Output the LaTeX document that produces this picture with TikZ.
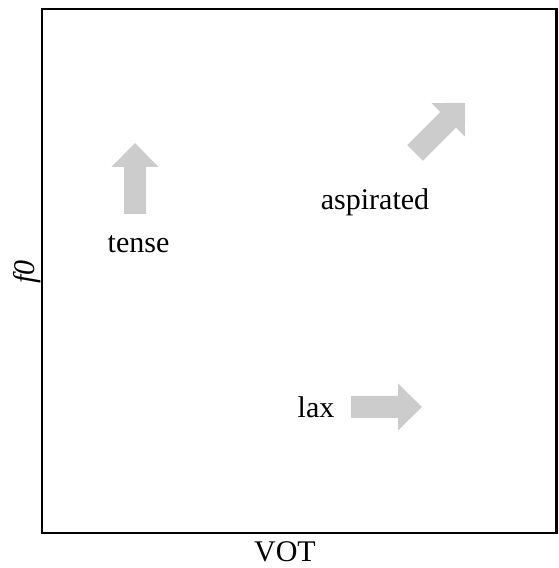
\documentclass[tikz,border=0pt]{standalone}
\usepackage{fontspec}
\setmainfont{Liberation Serif}
\begin{document}
\begin{tikzpicture}[x=1pt,y=1pt,
  lbl/.style={inner sep=0pt,anchor=base,font=\fontsize{30}{36}\selectfont},
  pics/bigarrow/.style={code={
    \fill[arrowgray] (0,-11) -- (47,-11) -- (47,-23.5) -- (71,0) -- (47,23.5) -- (47,11) -- (0,11) -- cycle;}}]
\definecolor{arrowgray}{HTML}{CCCCCC}
\useasboundingbox (0,0) rectangle (558,568);
\draw[line width=2.2pt] (42,559) rectangle (556.5,35);
% axis labels
\node[lbl] (vot) at (285,6) {VOT};
\node[inner sep=0pt,rotate=90,font=\fontsize{30}{36}\selectfont\itshape] (fz) at (27,296) {f0};
% category labels
\node[lbl] (tense) at (138.5,315) {tense};
\node[lbl] (asp) at (375,358) {aspirated};
\node[lbl] (lax) at (316,150) {lax};
% arrows
\pic[rotate=90] at (135,354) {bigarrow};
\pic[rotate=45] at (415,415) {bigarrow};
\pic at (351,161) {bigarrow};
\end{tikzpicture}
\end{document}
